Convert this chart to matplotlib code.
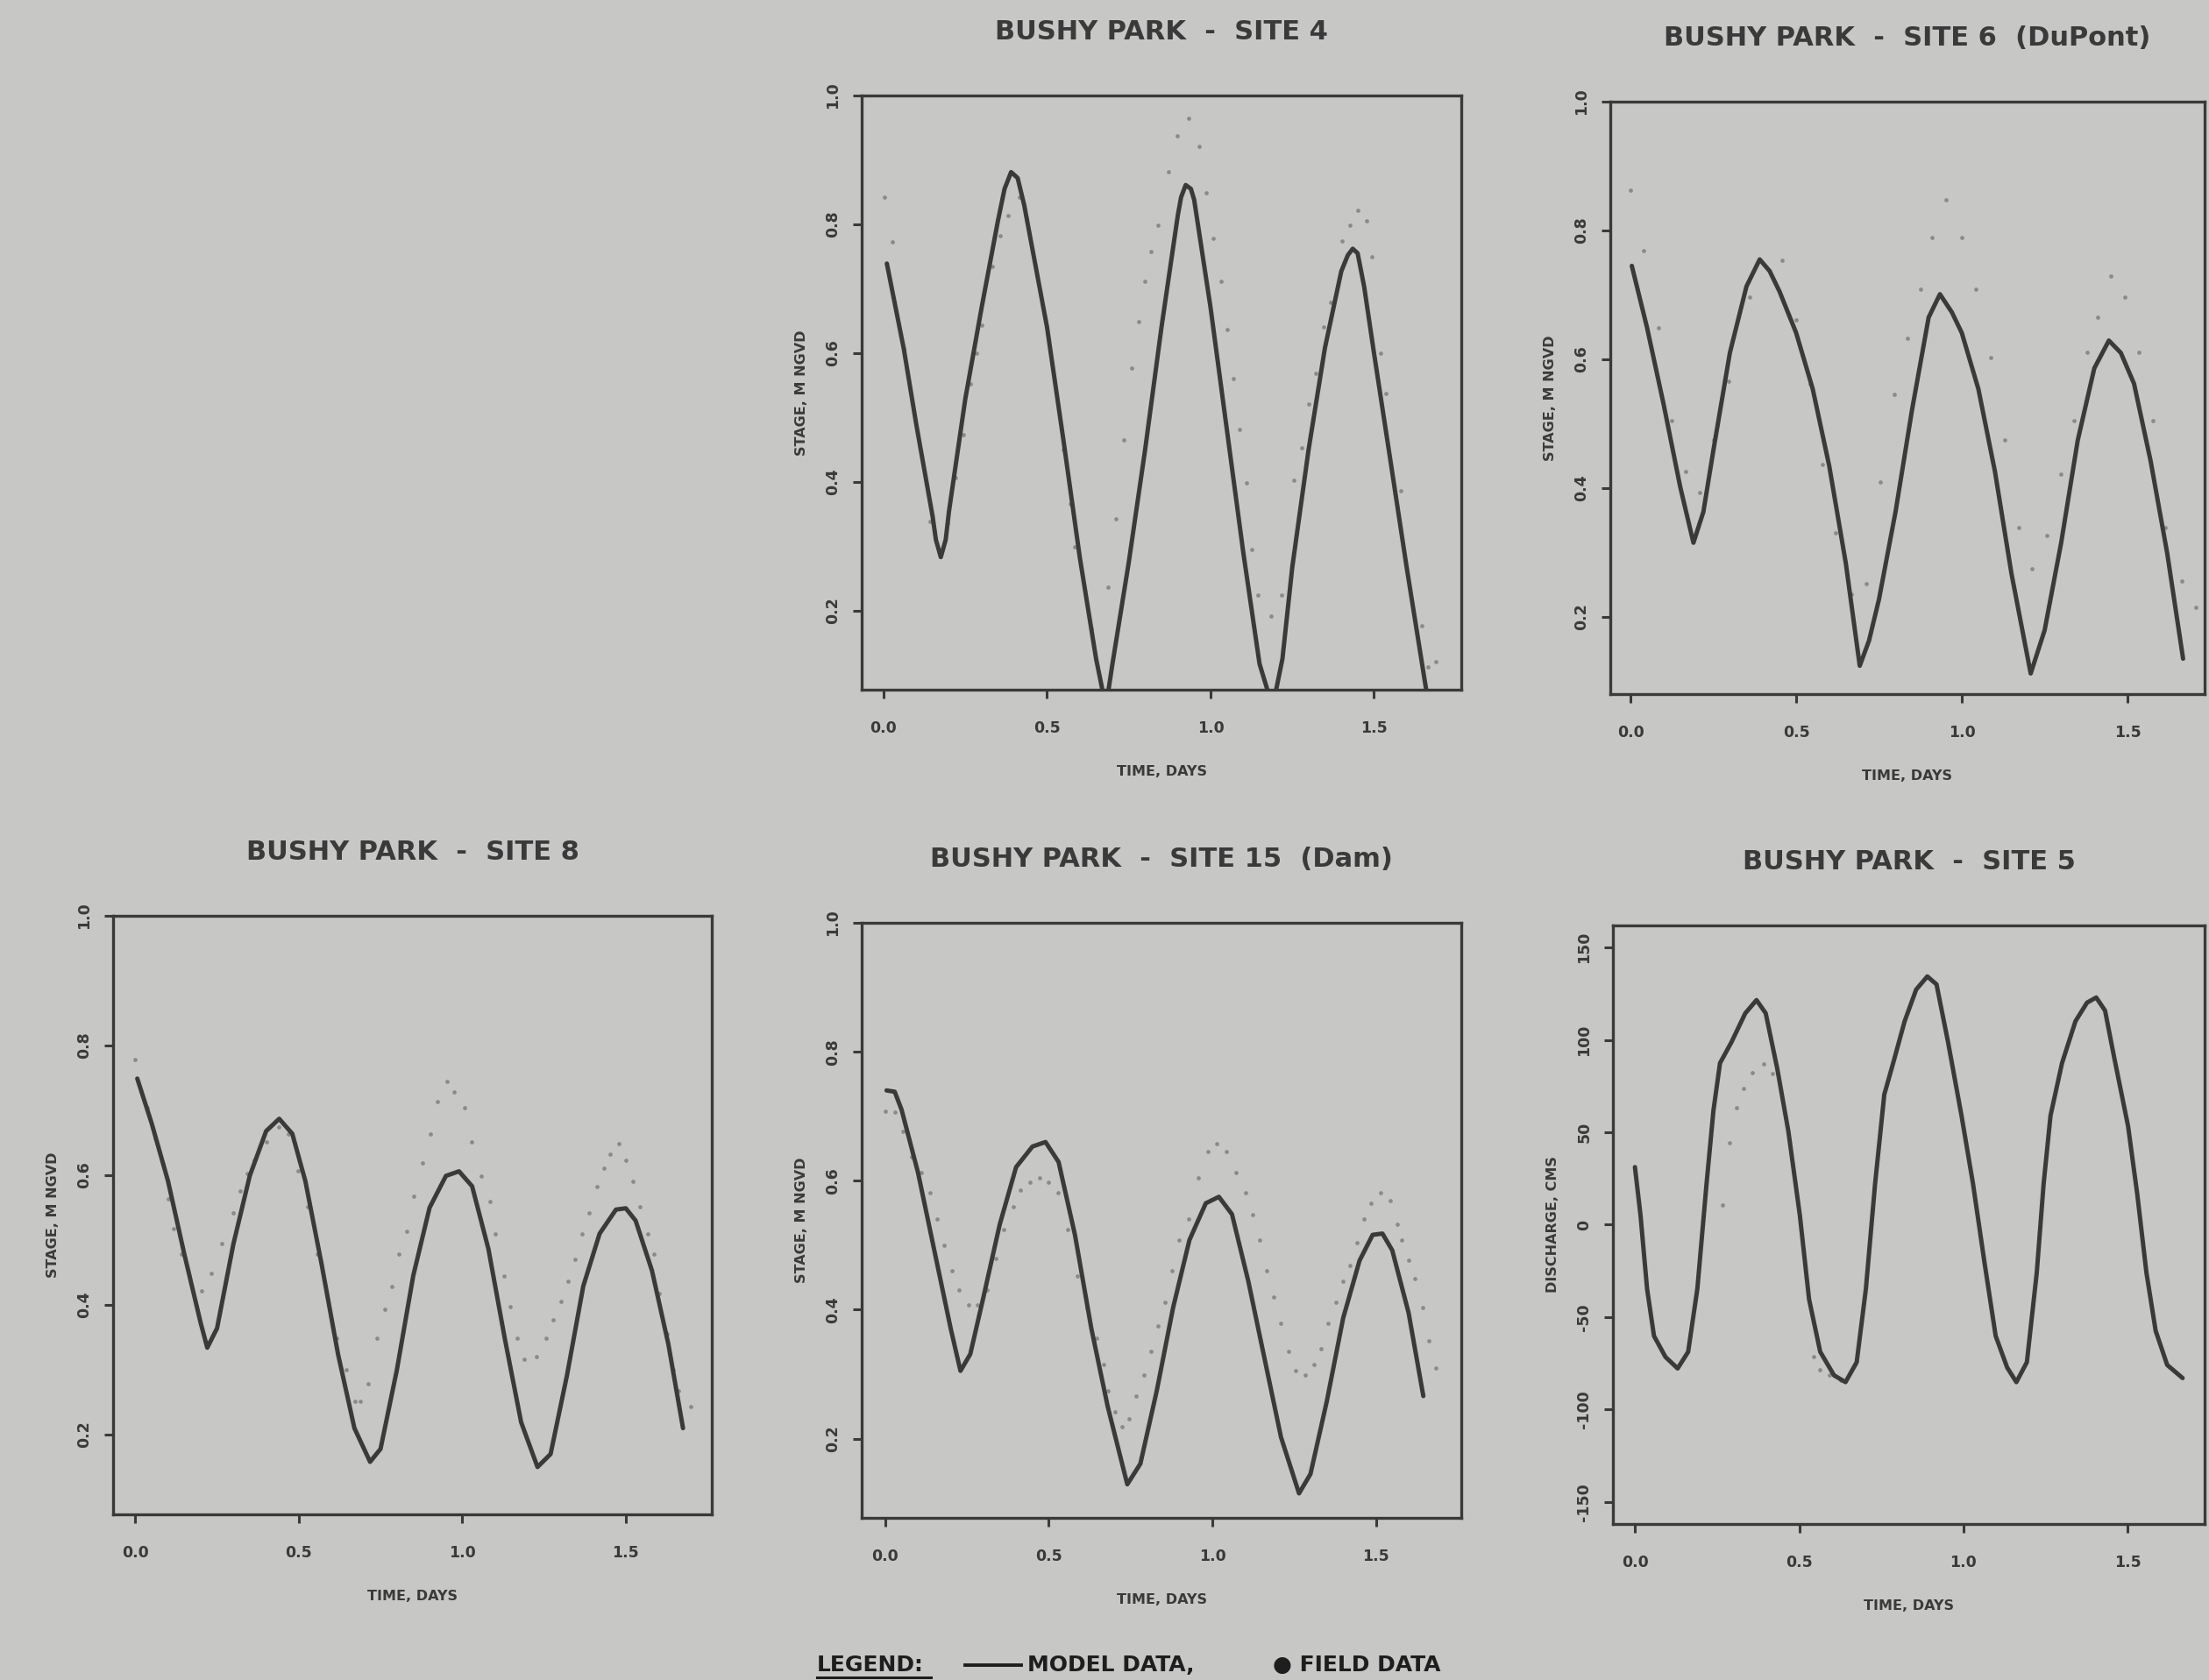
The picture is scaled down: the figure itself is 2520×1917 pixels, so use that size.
import matplotlib
matplotlib.use("Agg")
import matplotlib.pyplot as plt
from matplotlib.lines import Line2D

plt.rcParams['font.family'] = ['DejaVu Sans']
plt.rcParams['font.weight'] = 'bold'

BG = '#c7c8c6'
INK = '#3a3a3a'
DOT = '#8a8a8a'

# ---- site 4 ----
s4_model_t = [0.01, 0.062, 0.10, 0.15, 0.16, 0.175, 0.19, 0.20, 0.25, 0.30, 0.35, 0.37, 0.39, 0.41, 0.43,
              0.50, 0.55, 0.60, 0.65, 0.68, 0.70, 0.75, 0.80, 0.85, 0.90, 0.91, 0.924, 0.94, 0.95, 1.00,
              1.05, 1.10, 1.15, 1.19, 1.22, 1.25, 1.30, 1.35, 1.40, 1.42, 1.435, 1.45, 1.47, 1.50, 1.55,
              1.60, 1.665]
s4_model_y = [0.739, 0.606, 0.489, 0.346, 0.31, 0.283, 0.31, 0.354, 0.529, 0.671, 0.806, 0.855, 0.881, 0.872, 0.83,
              0.64, 0.465, 0.283, 0.125, 0.05, 0.117, 0.275, 0.45, 0.64, 0.814, 0.842, 0.861, 0.855, 0.838, 0.671,
              0.481, 0.291, 0.117, 0.05, 0.125, 0.267, 0.45, 0.608, 0.727, 0.752, 0.762, 0.755, 0.703, 0.6, 0.434,
              0.267, 0.06]
s4_field_t = [0.003, 0.027, 0.062, 0.143, 0.196, 0.22, 0.245, 0.265, 0.283, 0.30, 0.332, 0.356, 0.381, 0.416,
              0.437, 0.549, 0.57, 0.584, 0.636, 0.686, 0.71, 0.735, 0.759, 0.78, 0.80, 0.819, 0.84, 0.871,
              0.899, 0.934, 0.966, 0.987, 1.008, 1.032, 1.05, 1.071, 1.088, 1.109, 1.126, 1.144, 1.186,
              1.217, 1.256, 1.28, 1.301, 1.322, 1.347, 1.368, 1.403, 1.427, 1.45, 1.478, 1.494, 1.52,
              1.536, 1.583, 1.646, 1.665, 1.688]
s4_field_y = [0.842, 0.773, 0.606, 0.339, 0.335, 0.406, 0.473, 0.552, 0.60, 0.644, 0.735, 0.782, 0.814, 0.842,
              0.81, 0.45, 0.366, 0.299, 0.172, 0.236, 0.343, 0.465, 0.576, 0.649, 0.711, 0.758, 0.798, 0.881,
              0.937, 0.964, 0.921, 0.849, 0.778, 0.711, 0.636, 0.56, 0.481, 0.398, 0.295, 0.224, 0.192,
              0.224, 0.402, 0.453, 0.521, 0.568, 0.64, 0.679, 0.774, 0.798, 0.822, 0.806, 0.75, 0.60,
              0.537, 0.386, 0.176, 0.113, 0.12]

# ---- site 6 (DuPont) ----
s6_model_t = [0.004, 0.05, 0.10, 0.15, 0.19, 0.22, 0.25, 0.30, 0.35, 0.39, 0.42, 0.45, 0.50, 0.55, 0.60,
              0.65, 0.692, 0.72, 0.75, 0.80, 0.85, 0.90, 0.934, 0.97, 1.00, 1.05, 1.10, 1.15, 1.208, 1.25,
              1.30, 1.35, 1.40, 1.444, 1.48, 1.52, 1.57, 1.62, 1.668]
s6_model_y = [0.745, 0.649, 0.53, 0.402, 0.315, 0.363, 0.458, 0.61, 0.713, 0.755, 0.737, 0.705, 0.641, 0.554,
              0.434, 0.283, 0.124, 0.163, 0.227, 0.363, 0.522, 0.665, 0.701, 0.673, 0.641, 0.554, 0.426,
              0.267, 0.112, 0.179, 0.315, 0.474, 0.586, 0.629, 0.61, 0.562, 0.442, 0.299, 0.135]
s6_field_t = [0.0, 0.039, 0.084, 0.123, 0.167, 0.209, 0.251, 0.297, 0.36, 0.457, 0.5, 0.541, 0.58, 0.618,
              0.667, 0.711, 0.753, 0.795, 0.837, 0.876, 0.911, 0.953, 1.001, 1.043, 1.088, 1.13, 1.172,
              1.213, 1.257, 1.298, 1.339, 1.378, 1.409, 1.451, 1.492, 1.534, 1.576, 1.615, 1.664, 1.706]
s6_field_y = [0.863, 0.769, 0.649, 0.504, 0.426, 0.393, 0.474, 0.566, 0.697, 0.753, 0.661, 0.562, 0.436,
              0.331, 0.235, 0.251, 0.41, 0.546, 0.632, 0.709, 0.789, 0.847, 0.789, 0.709, 0.602, 0.474,
              0.339, 0.275, 0.327, 0.422, 0.504, 0.611, 0.665, 0.729, 0.697, 0.611, 0.504, 0.339, 0.255,
              0.215]

# ---- site 8 ----
s8_model_t = [0.006, 0.05, 0.10, 0.15, 0.20, 0.22, 0.25, 0.30, 0.35, 0.40, 0.44, 0.48, 0.52, 0.57, 0.62,
              0.67, 0.718, 0.75, 0.80, 0.85, 0.90, 0.95, 0.99, 1.03, 1.08, 1.13, 1.18, 1.23, 1.27, 1.32,
              1.37, 1.42, 1.47, 1.50, 1.53, 1.58, 1.63, 1.675]
s8_model_y = [0.749, 0.68, 0.591, 0.478, 0.372, 0.334, 0.364, 0.494, 0.599, 0.668, 0.687, 0.664, 0.591,
              0.462, 0.324, 0.21, 0.158, 0.178, 0.30, 0.445, 0.55, 0.599, 0.606, 0.583, 0.486, 0.348,
              0.219, 0.15, 0.17, 0.291, 0.429, 0.51, 0.547, 0.549, 0.53, 0.453, 0.34, 0.21]
s8_field_t = [0.0, 0.037, 0.062, 0.084, 0.102, 0.117, 0.14, 0.165, 0.202, 0.232, 0.264, 0.298, 0.32, 0.342,
              0.364, 0.401, 0.438, 0.468, 0.497, 0.527, 0.556, 0.586, 0.615, 0.645, 0.671, 0.689, 0.711,
              0.74, 0.763, 0.785, 0.807, 0.829, 0.851, 0.878, 0.903, 0.925, 0.954, 0.976, 1.006, 1.028,
              1.058, 1.084, 1.102, 1.128, 1.146, 1.168, 1.19, 1.227, 1.257, 1.279, 1.301, 1.323, 1.345,
              1.367, 1.389, 1.412, 1.434, 1.453, 1.478, 1.5, 1.522, 1.544, 1.566, 1.586, 1.603, 1.625,
              1.645, 1.662, 1.699]
s8_field_y = [0.779, 0.704, 0.657, 0.617, 0.563, 0.518, 0.478, 0.445, 0.421, 0.449, 0.494, 0.542, 0.575,
              0.603, 0.623, 0.652, 0.674, 0.664, 0.607, 0.551, 0.478, 0.413, 0.348, 0.30, 0.251, 0.251,
              0.279, 0.348, 0.393, 0.429, 0.478, 0.514, 0.567, 0.619, 0.664, 0.713, 0.745, 0.729, 0.704,
              0.652, 0.599, 0.559, 0.51, 0.445, 0.397, 0.348, 0.316, 0.32, 0.348, 0.377, 0.405, 0.437,
              0.47, 0.51, 0.542, 0.583, 0.611, 0.632, 0.648, 0.623, 0.591, 0.551, 0.51, 0.478, 0.417,
              0.356, 0.30, 0.267, 0.243]

# ---- site 15 (Dam) ----
s15_model_t = [0.004, 0.029, 0.05, 0.10, 0.15, 0.20, 0.23, 0.26, 0.30, 0.35, 0.40, 0.45, 0.49, 0.53, 0.58,
               0.63, 0.68, 0.74, 0.78, 0.83, 0.88, 0.93, 0.98, 1.02, 1.06, 1.11, 1.16, 1.21, 1.265, 1.30,
               1.35, 1.40, 1.45, 1.49, 1.52, 1.55, 1.60, 1.645]
s15_model_y = [0.74, 0.738, 0.71, 0.613, 0.492, 0.371, 0.305, 0.331, 0.419, 0.532, 0.621, 0.653, 0.66,
               0.629, 0.516, 0.371, 0.25, 0.129, 0.161, 0.274, 0.403, 0.508, 0.565, 0.575, 0.548, 0.444,
               0.323, 0.202, 0.115, 0.145, 0.258, 0.387, 0.476, 0.516, 0.518, 0.492, 0.395, 0.266]
s15_field_t = [0.0, 0.029, 0.054, 0.08, 0.109, 0.138, 0.159, 0.181, 0.203, 0.225, 0.254, 0.283, 0.312,
               0.338, 0.362, 0.391, 0.413, 0.442, 0.471, 0.5, 0.529, 0.558, 0.587, 0.616, 0.645, 0.667,
               0.681, 0.703, 0.725, 0.746, 0.768, 0.79, 0.812, 0.833, 0.855, 0.877, 0.899, 0.928, 0.957,
               0.986, 1.014, 1.043, 1.072, 1.101, 1.123, 1.145, 1.167, 1.188, 1.21, 1.232, 1.254, 1.283,
               1.312, 1.333, 1.355, 1.377, 1.399, 1.42, 1.442, 1.464, 1.486, 1.514, 1.543, 1.565, 1.58,
               1.601, 1.619, 1.642, 1.662, 1.684]
s15_field_y = [0.708, 0.706, 0.677, 0.637, 0.613, 0.581, 0.54, 0.50, 0.46, 0.431, 0.407, 0.407, 0.431,
               0.48, 0.524, 0.56, 0.585, 0.597, 0.605, 0.597, 0.581, 0.524, 0.452, 0.403, 0.355, 0.315,
               0.274, 0.242, 0.218, 0.23, 0.266, 0.298, 0.335, 0.375, 0.411, 0.46, 0.508, 0.54, 0.605,
               0.645, 0.657, 0.645, 0.613, 0.581, 0.548, 0.508, 0.46, 0.419, 0.379, 0.335, 0.306, 0.298,
               0.315, 0.339, 0.379, 0.411, 0.444, 0.468, 0.504, 0.54, 0.565, 0.581, 0.569, 0.532, 0.508,
               0.476, 0.448, 0.403, 0.351, 0.31]

# ---- site 5 (discharge) ----
s5_model_t = [0.0, 0.017, 0.037, 0.058, 0.093, 0.13, 0.162, 0.19, 0.218, 0.239, 0.259, 0.294, 0.336, 0.37,
              0.398, 0.433, 0.467, 0.502, 0.53, 0.564, 0.606, 0.641, 0.675, 0.703, 0.731, 0.759, 0.786,
              0.821, 0.856, 0.89, 0.918, 0.953, 0.994, 1.029, 1.064, 1.098, 1.133, 1.161, 1.193, 1.223,
              1.244, 1.265, 1.30, 1.341, 1.376, 1.404, 1.431, 1.459, 1.501, 1.529, 1.557, 1.585, 1.62,
              1.667]
s5_model_q = [31.2, 5.1, -34.7, -60.2, -71.6, -77.8, -68.8, -34.7, 22.2, 61.9, 87.5, 98.9, 114.5, 121.6,
              114.5, 84.7, 50.6, 5.1, -40.3, -68.8, -81.5, -85.2, -74.4, -34.7, 22.2, 70.5, 87.5, 110.2,
              127.3, 134.4, 130.1, 98.9, 59.1, 22.2, -20.5, -60.2, -77.3, -85.2, -74.4, -26.1, 22.2, 59.1,
              87.5, 110.2, 120.2, 123.0, 115.9, 90.3, 53.4, 16.5, -26.1, -57.4, -75.9, -83.0]
s5_field_t = [0.266, 0.287, 0.308, 0.331, 0.356, 0.391, 0.419, 0.544, 0.564, 0.592, 0.627, 0.669]
s5_field_q = [10.8, 44.3, 63.4, 73.9, 82.4, 86.9, 81.8, -71.6, -78.7, -81.5, -84.4, -75.9]

stage_ticks = [0.2, 0.4, 0.6, 0.8, 1.0]
q_ticks = [150, 100, 50, 0, -50, -100, -150]
time_ticks = [0.0, 0.5, 1.0, 1.5]

W, H = 2520, 1917
fig = plt.figure(figsize=(W / 100, H / 100), dpi=100, facecolor=BG)


def panel(box, title, mt, my, ft, fy, ylim, yticks, ylabel, xlim):
    l, t, r, b = box
    ax = fig.add_axes([l / W, 1 - b / H, (r - l) / W, (b - t) / H])
    ax.set_facecolor(BG)
    ax.plot(ft, fy, 'o', ms=3.4, color=DOT, mec='none')
    ax.plot(mt, my, '-', lw=3.6, color=INK, solid_capstyle='round', solid_joinstyle='round')
    ax.set_xlim(xlim)
    ax.set_ylim(ylim)
    ax.set_xticks(time_ticks)
    ax.set_xticklabels(['%.1f' % v for v in time_ticks])
    ax.set_yticks(yticks)
    if ylim[1] < 2:
        ax.set_yticklabels(['%.1f' % v for v in yticks], rotation=90, va='center')
    else:
        ax.set_yticklabels(['%d' % v for v in yticks], rotation=90, va='center')
    for s in ax.spines.values():
        s.set_linewidth(2.4)
        s.set_color(INK)
    ax.tick_params(direction='out', length=7, width=2.2, colors=INK, labelsize=12.5)
    ax.tick_params(axis='x', pad=18)
    ax.tick_params(axis='y', pad=10)
    ax.set_xlabel('TIME, DAYS', fontsize=11.5, color=INK, labelpad=24, fontweight='bold')
    ax.set_ylabel(ylabel, fontsize=11.5, color=INK, labelpad=14, fontweight='bold')
    ax.set_title(title, fontsize=22, color=INK, pad=46, fontweight='bold')
    return ax


panel((983, 109, 1667, 787), 'BUSHY PARK  -  SITE 4', s4_model_t, s4_model_y, s4_field_t, s4_field_y,
      (0.077, 1.0), stage_ticks, 'STAGE, M NGVD', (-0.067, 1.767))
panel((1837, 116, 2515, 792), 'BUSHY PARK  -  SITE 6  (DuPont)', s6_model_t, s6_model_y, s6_field_t,
      s6_field_y, (0.080, 1.0), stage_ticks, 'STAGE, M NGVD', (-0.061, 1.733))
panel((129, 1045, 812, 1728), 'BUSHY PARK  -  SITE 8', s8_model_t, s8_model_y, s8_field_t, s8_field_y,
      (0.077, 1.0), stage_ticks, 'STAGE, M NGVD', (-0.068, 1.763))
panel((983, 1053, 1667, 1732), 'BUSHY PARK  -  SITE 15  (Dam)', s15_model_t, s15_model_y, s15_field_t,
      s15_field_y, (0.077, 1.0), stage_ticks, 'STAGE, M NGVD', (-0.072, 1.761))
panel((1840, 1056, 2515, 1739), 'BUSHY PARK  -  SITE 5', s5_model_t, s5_model_q, s5_field_t, s5_field_q,
      (-162, 162), q_ticks, 'DISCHARGE, CMS', (-0.067, 1.734))

# legend line at the bottom
ly = 1 - 1900 / H
fig.text(932 / W, ly, 'LEGEND:', fontsize=18, color='#1e1e1e', va='center', ha='left', fontweight='bold')
fig.add_artist(Line2D([932 / W, 1062 / W], [1 - 1914 / H] * 2, color='#1e1e1e', lw=2.2))
fig.add_artist(Line2D([1101 / W, 1165 / W], [ly, ly], color='#1e1e1e', lw=2.8))
fig.text(1172 / W, ly, 'MODEL DATA,', fontsize=18, color='#1e1e1e', va='center', ha='left', fontweight='bold')
fig.text(1452 / W, ly, '\u25cf FIELD DATA', fontsize=18, color='#1e1e1e', va='center', ha='left',
         fontweight='bold')

fig.savefig('out.png', dpi=100, facecolor=BG)
